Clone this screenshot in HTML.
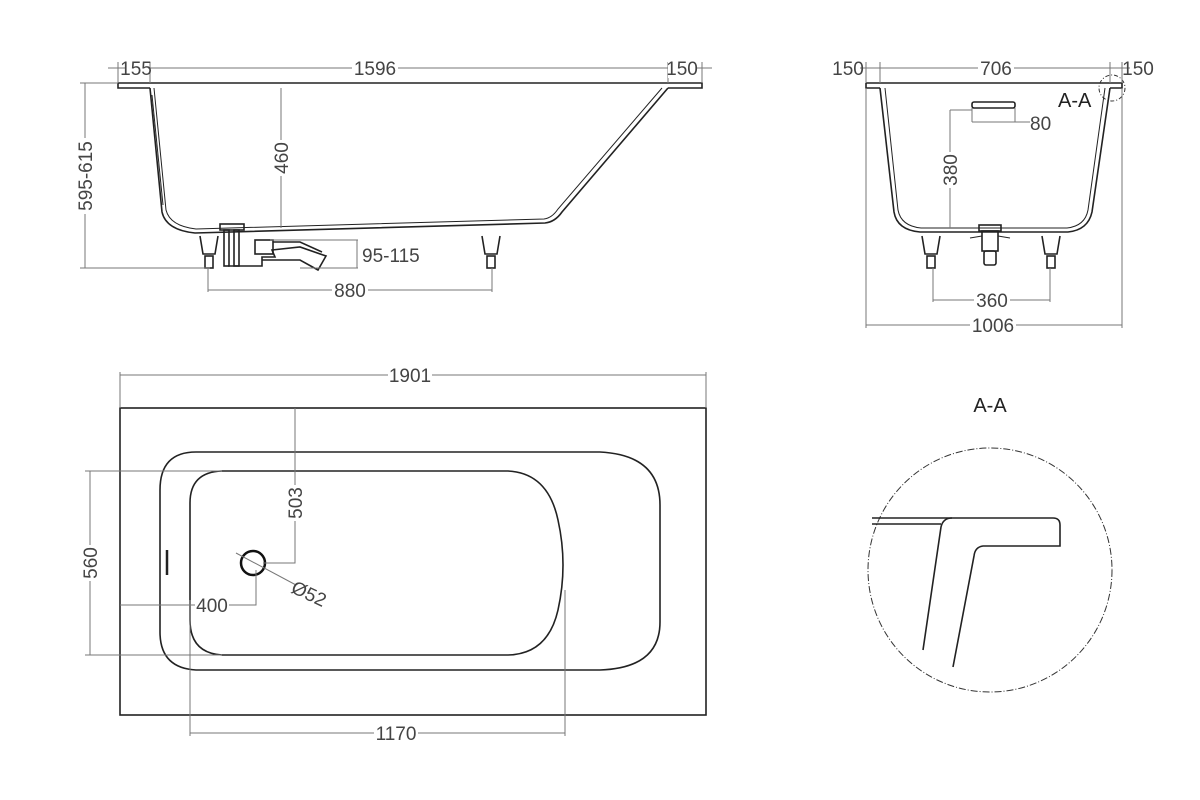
<!DOCTYPE html>
<html><head><meta charset="utf-8"><style>
html,body{margin:0;padding:0;background:#fff}
svg{display:block}
text{font-family:"Liberation Sans Narrow","Liberation Sans",sans-serif;font-size:19px;fill:#444}
.d{stroke:#777;stroke-width:1;fill:none}
.o{stroke:#222;stroke-width:1.6;fill:none}
.t{stroke:#222;stroke-width:1;fill:none}
</style></head><body>
<svg width="1200" height="800" viewBox="0 0 1200 800" xmlns="http://www.w3.org/2000/svg">
<!-- SIDE VIEW -->
<g>
<path class="o" d="M118 83 H702 V88 H668 M118 83 V88 H150"/>
<path class="o" d="M150 88 L162 212 Q166 230 195 233 L545 223 Q555 222 562 212 L668 88"/>
<path class="t" d="M154 88 L166 210 Q170 226 196 229 L544 219 Q552 218 558 209 L662 88"/>
<path class="t" d="M152 95 L163 205" stroke-width="2.5"/>
<path class="o" d="M200 236 L203 254 H215 L218 236"/><rect class="o" x="205" y="256" width="8" height="12"/>
<path class="o" d="M482 236 L485 254 H497 L500 236"/><rect class="o" x="487" y="256" width="8" height="12"/>
<rect class="o" x="220" y="224" width="24" height="6"/>
<rect class="o" x="224" y="230" width="5" height="36"/><rect class="o" x="234" y="230" width="5" height="36"/>
<path class="o" d="M228 266 H262 V257 H275 L272 250 L300 247 L326 256 L318 270 L300 260 H262"/>
<rect class="o" x="255" y="240" width="18" height="14"/>
<path class="o" d="M273 242 H300 L322 252"/>
<path class="d" d="M108 68 H712 M118 62 V83 M150 62 V83 M668 62 V83 M702 62 V83"/>
<rect x="125" y="58" width="23" height="20" fill="#fff"/><text x="136" y="75" text-anchor="middle">155</text>
<rect x="352" y="58" width="46" height="20" fill="#fff"/><text x="375" y="75" text-anchor="middle">1596</text>
<rect x="668" y="58" width="28" height="20" fill="#fff"/><text x="682" y="75" text-anchor="middle">150</text>
<path class="d" d="M80 83 H118 M80 268 H210 M85 83 V268"/>
<rect x="75" y="138" width="20" height="76" fill="#fff"/>
<text transform="translate(92 176) rotate(-90)" text-anchor="middle">595-615</text>
<path class="d" d="M281 88 V228"/>
<rect x="272" y="140" width="18" height="36" fill="#fff"/>
<text transform="translate(288 158) rotate(-90)" text-anchor="middle">460</text>
<path class="d" d="M270 240 H358 M300 268 H358 M357 240 V268"/>
<text x="362" y="262">95-115</text>
<path class="d" d="M208 268 V292 M492 268 V292 M208 290 H492"/>
<rect x="332" y="280" width="36" height="20" fill="#fff"/><text x="350" y="297" text-anchor="middle">880</text>
</g>
<!-- FRONT VIEW -->
<g>
<path class="o" d="M866 83 H1122 V88 H1110 M866 83 V88 H880"/>
<path class="o" d="M880 88 L894 212 Q897 230 920 232 L1068 232 Q1088 230 1092 212 L1110 88"/>
<path class="t" d="M885 88 L898 210 Q901 226 921 228 L1067 228 Q1085 226 1088 210 L1105 88"/>
<rect class="o" x="972" y="102" width="43" height="6" rx="2"/>
<path class="o" d="M922 236 L925 254 H937 L940 236"/><rect class="o" x="927" y="256" width="8" height="12"/>
<path class="o" d="M1042 236 L1045 254 H1057 L1060 236"/><rect class="o" x="1047" y="256" width="8" height="12"/>
<rect class="o" x="979" y="225" width="22" height="6"/>
<rect class="o" x="982" y="231" width="16" height="20"/>
<rect class="o" x="984" y="251" width="12" height="14" rx="2"/>
<path class="t" d="M970 238 L982 236 M1010 238 L998 236"/>
<circle cx="1112" cy="88" r="13" fill="none" stroke="#333" stroke-dasharray="4 2 1 2"/>
<text x="1058" y="107" style="font-size:20px;fill:#222">A-A</text>
<path class="d" d="M860 68 H1130 M866 62 V83 M880 62 V83 M1110 62 V83 M1122 62 V83"/>
<text x="848" y="75" text-anchor="middle">150</text>
<rect x="978" y="58" width="36" height="20" fill="#fff"/><text x="996" y="75" text-anchor="middle">706</text>
<text x="1138" y="75" text-anchor="middle">150</text>
<path class="d" d="M972 108 V122 M1015 108 V122 M972 122 H1030"/>
<text x="1030" y="130">80</text>
<path class="d" d="M950 110 H972 M950 110 V228"/>
<rect x="941" y="152" width="18" height="36" fill="#fff"/>
<text transform="translate(957 170) rotate(-90)" text-anchor="middle">380</text>
<path class="d" d="M933 268 V302 M1050 268 V302 M933 300 H1050"/>
<rect x="974" y="290" width="36" height="20" fill="#fff"/><text x="992" y="307" text-anchor="middle">360</text>
<path class="d" d="M866 88 V328 M1122 88 V328 M866 325 H1122"/>
<rect x="970" y="315" width="46" height="20" fill="#fff"/><text x="993" y="332" text-anchor="middle">1006</text>
</g>
<!-- PLAN VIEW -->
<g>
<rect class="o" x="120" y="408" width="586" height="307"/>
<path class="d" d="M120 372 V408 M706 372 V408 M120 375 H706"/>
<rect x="388" y="365" width="44" height="20" fill="#fff"/><text x="410" y="382" text-anchor="middle">1901</text>
<path class="o" d="M196 452 H600 Q660 455 660 505 V622 Q660 668 600 670 H196 Q160 668 160 632 V490 Q160 452 196 452 Z"/>
<path class="o" d="M222 471 H508 Q548 473 558 520 Q568 565 558 610 Q548 654 508 655 H222 Q190 653 190 620 V503 Q190 472 222 471 Z"/>
<path d="M167 550 V575" stroke="#222" stroke-width="2.5"/>
<circle cx="253" cy="563" r="12" fill="none" stroke="#111" stroke-width="2.5"/>
<path class="d" d="M236 553 L296 585"/>
<text transform="translate(290 592) rotate(25)">Ø52</text>
<path class="d" d="M295 408 V563 H263"/>
<rect x="286" y="485" width="18" height="36" fill="#fff"/>
<text transform="translate(302 503) rotate(-90)" text-anchor="middle">503</text>
<path class="d" d="M256 570 V605 H120"/>
<rect x="195" y="595" width="34" height="20" fill="#fff"/><text x="212" y="612" text-anchor="middle">400</text>
<path class="d" d="M85 471 H222 M85 655 H222 M90 471 V655"/>
<rect x="81" y="545" width="18" height="36" fill="#fff"/>
<text transform="translate(97 563) rotate(-90)" text-anchor="middle">560</text>
<path class="d" d="M190 600 V736 M565 590 V736 M190 733 H565"/>
<rect x="374" y="723" width="44" height="20" fill="#fff"/><text x="396" y="740" text-anchor="middle">1170</text>
</g>
<!-- DETAIL A-A -->
<g>
<text x="990" y="412" text-anchor="middle" style="font-size:20px;fill:#222">A-A</text>
<circle cx="990" cy="570" r="122" fill="none" stroke="#333" stroke-width="1" stroke-dasharray="7 2 1 2"/>
<path class="o" d="M872 518 H1053 Q1060 518 1060 525 V546 H983 Q975 547 974 556 L953 667"/>
<path class="o" d="M872 524 H941"/>
<path class="o" d="M923 650 L941 527 Q943 518 952 518"/>
</g>
</svg>
</body></html>
